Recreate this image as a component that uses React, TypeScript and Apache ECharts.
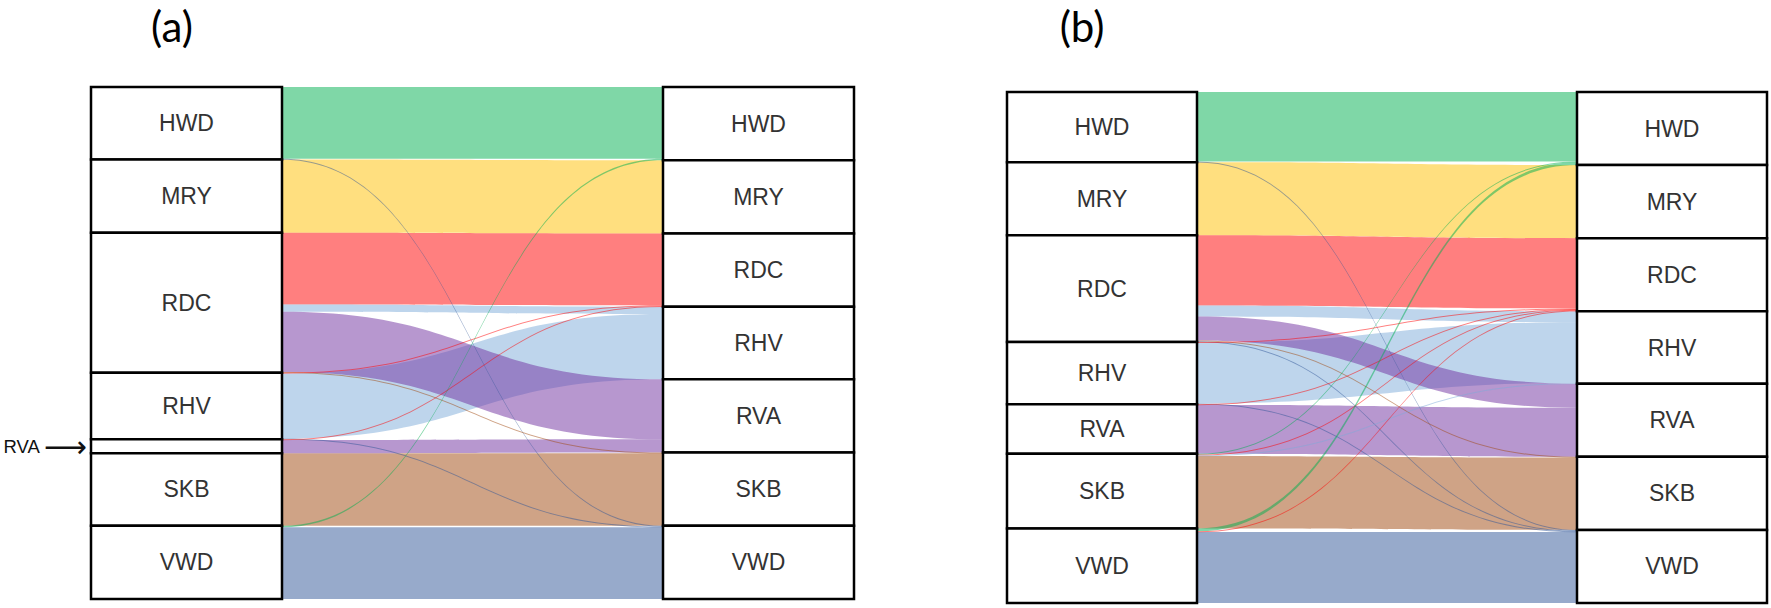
import { useEffect, useRef } from 'react';
import * as echarts from 'echarts';

// ---- data -------------------------------------------------------------
const NODES = ['HWD', 'MRY', 'RDC', 'RHV', 'RVA', 'SKB', 'VWD'];
const NODE_COLORS = ['#00B050', '#FFC000', '#FF0000', '#7DABD9', '#7030A0', '#9F470D', '#2F5597'];
const PANEL_TITLES = ['(a)', '(b)'];

// [source (left), target (right), value]
const FLOWS_A: [string, string, number][] = [
  ['HWD', 'HWD', 98],
  ['MRY', 'MRY', 100],
  ['RDC', 'RDC', 98],
  ['RHV', 'RHV', 89],
  ['SKB', 'SKB', 99],
  ['VWD', 'VWD', 98],
  ['RDC', 'RHV', 10],
  ['RDC', 'RVA', 82],
  ['RVA', 'RVA', 18],
  ['HWD', 'VWD', 1],
  ['RDC', 'SKB', 1],
  ['RHV', 'RDC', 1],
  ['RHV', 'VWD', 1],
  ['RVA', 'RDC', 1],
  ['VWD', 'HWD', 2],
];

const FLOWS_B: [string, string, number][] = [
  ['HWD', 'HWD', 95],
  ['MRY', 'MRY', 100],
  ['RDC', 'RDC', 96],
  ['RHV', 'RHV', 83],
  ['SKB', 'SKB', 99],
  ['VWD', 'VWD', 97],
  ['RDC', 'RHV', 15],
  ['RDC', 'RVA', 33],
  ['RVA', 'RVA', 67],
  ['HWD', 'VWD', 1],
  ['RDC', 'SKB', 1],
  ['RDC', 'VWD', 1],
  ['RHV', 'RDC', 1],
  ['RHV', 'VWD', 1],
  ['RVA', 'RDC', 1],
  ['SKB', 'HWD', 1],
  ['SKB', 'RDC', 1],
  ['SKB', 'RHV', 1],
  ['VWD', 'HWD', 4],
  ['VWD', 'RDC', 1],
];

// ---- layout (positions / styles only) ----------------------------------
const PANELS = [
  { flows: FLOWS_A, left: 91, top: 87, width: 763, height: 512, nodeWidth: 191, titleX: 172 },
  { flows: FLOWS_B, left: 1007, top: 92, width: 760, height: 511, nodeWidth: 190, titleX: 1082 },
];

const LABEL_FONT = 'Arial, "Liberation Sans", sans-serif';

function buildSeries(panel: (typeof PANELS)[number]) {
  const flows = panel.flows;
  const total = flows.reduce((s, f) => s + f[2], 0);
  const ky = panel.height / total;
  const outSum: Record<string, number> = {};
  flows.forEach(([s, , v]) => {
    outSum[s] = (outSum[s] || 0) + v;
  });

  const nodeStyle = { color: '#ffffff', borderColor: '#000000', borderWidth: 2.5 };
  const data: any[] = [];
  NODES.forEach((n) => {
    const item: any = { name: 'L:' + n, itemStyle: nodeStyle };
    if ((outSum[n] || 0) * ky < 24) {
      item.label = {
        show: true,
        position: 'left',
        distance: 3,
        formatter: '{t|' + n + '}{arr|⟶}',
        rich: {
          t: { fontSize: 18.5, color: '#111', fontFamily: LABEL_FONT, padding: [0, 4, 0, 0] },
          arr: { fontSize: 30, color: '#111', fontFamily: '"DejaVu Sans"' },
        },
      };
    }
    data.push(item);
  });
  NODES.forEach((n) => data.push({ name: 'R:' + n, itemStyle: nodeStyle }));

  const links = flows.map(([s, t, v]) => ({
    source: 'L:' + s,
    target: 'R:' + t,
    value: v,
    lineStyle: { color: NODE_COLORS[NODES.indexOf(t)], opacity: 0.5 },
  }));

  return {
    type: 'sankey',
    left: panel.left,
    top: panel.top,
    width: panel.width,
    height: panel.height,
    nodeWidth: panel.nodeWidth,
    nodeGap: 0,
    layoutIterations: 0,
    draggable: false,
    silent: true,
    emphasis: { disabled: true },
    data,
    links,
    label: {
      show: true,
      position: 'inside',
      color: '#333',
      fontSize: 23,
      fontFamily: LABEL_FONT,
      formatter: (p: any) => String(p.name).slice(2),
    },
    lineStyle: { curveness: 0.5, opacity: 0.5 },
  };
}

export default function App() {
  const ref = useRef<HTMLDivElement>(null);

  useEffect(() => {
    if (!ref.current) return;
    const chart = echarts.init(ref.current, null, { renderer: 'svg' });
    chart.setOption({
      animation: false,
      backgroundColor: '#ffffff',
      graphic: PANELS.map((p, i) => ({
        type: 'text',
        x: p.titleX,
        y: 26,
        style: {
          text: PANEL_TITLES[i],
          font: '42px Lato, "Open Sans", sans-serif',
          fill: '#000',
          textAlign: 'center',
          textVerticalAlign: 'middle',
        },
      })),
      series: PANELS.map(buildSeries),
    });
    return () => chart.dispose();
  }, []);

  return (
    <div
      ref={ref}
      style={{ position: 'absolute', left: 0, top: 0, width: 1771, height: 608 }}
    />
  );
}
